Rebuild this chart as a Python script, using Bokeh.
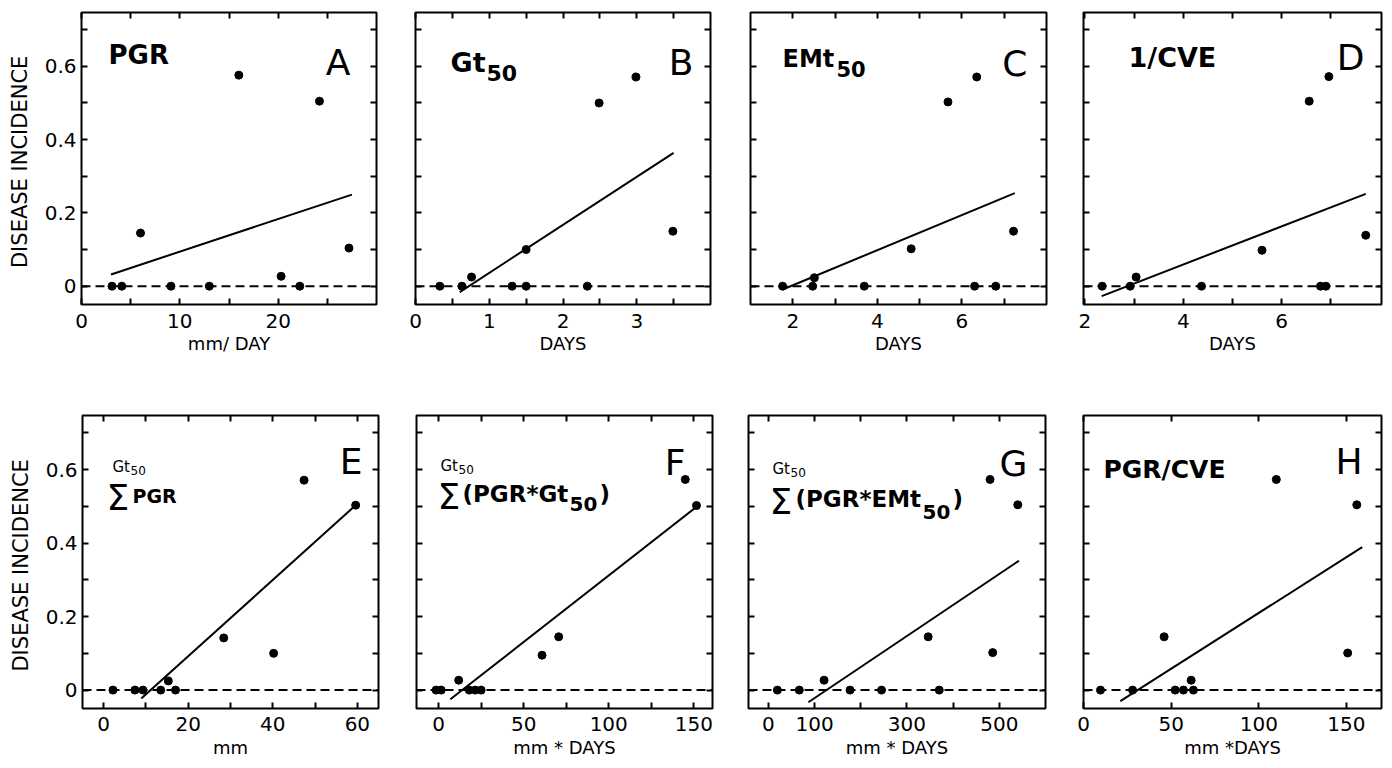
from bokeh.plotting import figure
from bokeh.models import Range1d, LinearAxis, FixedTicker, Span, Label
from bokeh.layouts import column, row
from bokeh.embed import file_html
from bokeh.resources import INLINE

FONT = "DejaVu Sans"

# ---------------- data ----------------
y_ticks_major = [0, 0.2, 0.4, 0.6]
y_ticks_minor = [0.1, 0.3, 0.5, 0.7]

a_x = [3.1, 4.1, 6.0, 9.1, 13.0, 16.0, 20.3, 22.2, 24.2, 27.2]
a_y = [0, 0, 0.145, 0, 0, 0.576, 0.027, 0, 0.505, 0.104]
a_line_x = [3.0, 27.5]
a_line_y = [0.032, 0.25]

b_x = [0.33, 0.63, 0.76, 1.31, 1.5, 1.5, 2.33, 2.49, 2.99, 3.49]
b_y = [0, 0, 0.025, 0, 0, 0.1, 0, 0.5, 0.571, 0.15]
b_line_x = [0.6, 3.5]
b_line_y = [-0.016, 0.364]

c_x = [1.76, 2.47, 2.51, 3.69, 4.8, 5.67, 6.35, 6.3, 6.8, 7.22]
c_y = [0, 0, 0.023, 0, 0.102, 0.503, 0.571, 0, 0, 0.15]
c_line_x = [1.76, 7.25]
c_line_y = [-0.009, 0.254]

d_x = [2.35, 2.92, 3.04, 4.37, 5.6, 6.56, 6.79, 6.9, 6.96, 7.71]
d_y = [0, 0, 0.025, 0, 0.098, 0.505, 0, 0, 0.572, 0.139]
d_line_x = [2.34, 7.71]
d_line_y = [-0.027, 0.252]

e_x = [2.2, 7.4, 9.3, 13.5, 15.3, 17.0, 28.4, 40.2, 47.4, 59.6]
e_y = [0, 0, 0, 0, 0.025, 0, 0.142, 0.1, 0.571, 0.503]
e_line_x = [8.9, 59.6]
e_line_y = [-0.023, 0.503]

f_x = [-1.5, 1.5, 11.8, 18.0, 21.5, 25.0, 60.8, 70.6, 145.0, 151.6]
f_y = [0, 0, 0.027, 0, 0, 0, 0.095, 0.145, 0.573, 0.502]
f_line_x = [6.9, 152.0]
f_line_y = [-0.025, 0.5]

g_x = [19.5, 67.0, 120.6, 176.8, 245.0, 346.0, 370.0, 480.0, 485.7, 540.0]
g_y = [0, 0, 0.027, 0, 0, 0.145, 0, 0.573, 0.102, 0.504]
g_line_x = [86.6, 542.6]
g_line_y = [-0.033, 0.352]

h_x = [9.7, 28.0, 46.0, 52.3, 57.0, 61.4, 62.7, 110.0, 150.7, 155.9]
h_y = [0, 0, 0.145, 0, 0, 0.027, 0, 0.573, 0.101, 0.504]
h_line_x = [21.0, 159.0]
h_line_y = [-0.03, 0.389]

x_labels = ["mm/ DAY", "DAYS", "DAYS", "DAYS", "mm", "mm * DAYS", "mm * DAYS", "mm *DAYS"]
y_label = "DISEASE  INCIDENCE"
panel_letters = ["A", "B", "C", "D", "E", "F", "G", "H"]

YMIN, YMAX = -0.05, 0.747


def style_axis(ax, size="20px"):
    ax.axis_line_color = None
    ax.major_tick_in = 6
    ax.major_tick_out = 0
    ax.minor_tick_in = 6
    ax.minor_tick_out = 0
    ax.major_tick_line_width = 2
    ax.minor_tick_line_width = 2
    ax.major_tick_line_color = "black"
    ax.minor_tick_line_color = "black"
    ax.major_label_text_font = FONT
    ax.major_label_text_font_size = size
    ax.major_label_text_color = "black"
    ax.axis_label_text_font = FONT
    ax.axis_label_text_font_style = "normal"
    ax.axis_label_text_color = "black"


def make(xr, xmaj, xmin, fw, fh, lb, rb, tb, bb, xs, ys, lx, ly, xlabel,
         left_labels=False, tick_standoff=9, label_standoff=2):
    p = figure(frame_width=fw, frame_height=fh,
               min_border_left=lb, min_border_right=rb,
               min_border_top=tb, min_border_bottom=bb,
               x_range=Range1d(*xr), y_range=Range1d(YMIN, YMAX),
               output_backend="svg", toolbar_location=None,
               background_fill_color="white", border_fill_color="white")
    p.grid.visible = False
    p.outline_line_color = "black"
    p.outline_line_width = 2
    p.outline_line_alpha = 1.0

    xa = p.xaxis[0]
    xa.ticker = FixedTicker(ticks=xmaj, minor_ticks=xmin)
    style_axis(xa)
    xa.major_label_standoff = tick_standoff
    xa.axis_label = xlabel
    xa.axis_label_text_font_size = "18px"
    xa.axis_label_standoff = label_standoff

    ya = p.yaxis[0]
    if left_labels:
        ya.ticker = FixedTicker(ticks=y_ticks_major, minor_ticks=y_ticks_minor)
        style_axis(ya)
        ya.major_label_overrides = {0: "0"}
        ya.major_label_standoff = 5
        ya.axis_label = y_label
        ya.axis_label_text_font_size = "21px"
        ya.axis_label_standoff = 10
    else:
        ya.ticker = FixedTicker(ticks=[], minor_ticks=y_ticks_major + y_ticks_minor)
        style_axis(ya)
        ya.major_label_standoff = 0

    top = LinearAxis(ticker=FixedTicker(ticks=[], minor_ticks=xmaj + xmin))
    style_axis(top)
    top.major_label_standoff = 0
    p.add_layout(top, "above")

    right = LinearAxis(ticker=FixedTicker(ticks=[], minor_ticks=y_ticks_major + y_ticks_minor))
    style_axis(right)
    right.major_label_standoff = 0
    p.add_layout(right, "right")

    p.add_layout(Span(location=0, dimension="width", line_color="black",
                      line_width=2, line_dash="9 5"))
    p.line(lx, ly, line_color="black", line_width=2)
    p.scatter(xs, ys, size=8, fill_color="black", line_color="black")
    p._fw, p._fh = fw, fh
    return p


def put(p, dx, dy, text, size, bold=False, align="left"):
    xr, yr = p.x_range, p.y_range
    x = xr.start + dx / p._fw * (xr.end - xr.start)
    y = yr.end - dy / p._fh * (yr.end - yr.start)
    p.add_layout(Label(x=x, y=y, text=text, text_font=FONT,
                       text_font_size=f"{size}px",
                       text_font_style="bold" if bold else "normal",
                       text_align=align, text_baseline="alphabetic",
                       text_color="black"))


# ---------------- top row ----------------
TB1, FH1, BB1 = 12, 292, 60
pa = make((0, 30), [0, 10, 20], [5, 15, 25], 295, FH1, 81, 5, TB1, BB1,
          a_x, a_y, a_line_x, a_line_y, x_labels[0], left_labels=True)
pb = make((0, 4), [0, 1, 2, 3], [0.5, 1.5, 2.5, 3.5], 295, FH1, 34, 5, TB1, BB1,
          b_x, b_y, b_line_x, b_line_y, x_labels[1])
pc = make((1, 8), [2, 4, 6], [3, 5, 7], 296, FH1, 35, 5, TB1, BB1,
          c_x, c_y, c_line_x, c_line_y, x_labels[2])
pd = make((1.97, 8.03), [2, 4, 6], [3, 5, 7], 298, FH1, 32, 3, TB1, BB1,
          d_x, d_y, d_line_x, d_line_y, x_labels[3])

# ---------------- bottom row ----------------
TB2, FH2, BB2 = 51, 293, 58
pe = make((-5, 65), [0, 20, 40, 60], [10, 30, 50], 296, FH2, 82, 5, TB2, BB2,
          e_x, e_y, e_line_x, e_line_y, x_labels[4], left_labels=True,
          tick_standoff=8, label_standoff=3)
pf = make((-13, 161), [0, 50, 100, 150], [25, 75, 125], 296, FH2, 33, 5, TB2, BB2,
          f_x, f_y, f_line_x, f_line_y, x_labels[5], tick_standoff=8, label_standoff=3)
pg = make((-43, 600), [0, 100, 300, 500], [200, 400], 297, FH2, 31, 5, TB2, BB2,
          g_x, g_y, g_line_x, g_line_y, x_labels[6], tick_standoff=8, label_standoff=3)
ph = make((0, 170), [0, 50, 100, 150], [], 298, FH2, 33, 3, TB2, BB2,
          h_x, h_y, h_line_x, h_line_y, x_labels[7], tick_standoff=8, label_standoff=3)

# ---------------- panel texts ----------------
put(pa, 27, 42, "PGR", 26, bold=True)
put(pb, 35, 50, "Gt", 27, bold=True)
put(pb, 71, 60, "50", 22, bold=True)
put(pc, 32, 46, "EMt", 24, bold=True)
put(pc, 86, 56, "50", 21, bold=True)
put(pd, 45, 45, "1/CVE", 27, bold=True)

put(pe, 24, 82, "\u03a3", 36)
put(pe, 30, 51, "Gt", 15)
put(pe, 48, 55, "50", 12)
put(pe, 50, 80, "PGR", 19, bold=True)

put(pf, 21, 81, "\u03a3", 36)
put(pf, 24, 50, "Gt", 15)
put(pf, 42, 54, "50", 12)
put(pf, 46, 78, "(PGR*Gt", 23, bold=True)
put(pf, 153, 88, "50", 20, bold=True)
put(pf, 183, 78, ")", 23, bold=True)

put(pg, 21, 86, "\u03a3", 36)
put(pg, 24, 53, "Gt", 15)
put(pg, 42, 57, "50", 12)
put(pg, 47, 83, "(PGR*EMt", 23, bold=True)
put(pg, 174, 96, "50", 20, bold=True)
put(pg, 204, 83, ")", 23, bold=True)

put(ph, 20, 54, "PGR/CVE", 25, bold=True)

letter_pos = [(pa, 269, 50), (pb, 278, 50), (pc, 277, 51), (pd, 281, 45),
              (pe, 280, 46), (pf, 269, 47), (pg, 279, 48), (ph, 279, 46)]
for (p, dx, dy), letter in zip(letter_pos, panel_letters):
    put(p, dx, dy, letter, 36, align="right")

layout = column(row(pa, pb, pc, pd, spacing=0), row(pe, pf, pg, ph, spacing=0), spacing=0)

open("out.html", "w").write(file_html(layout, INLINE))
